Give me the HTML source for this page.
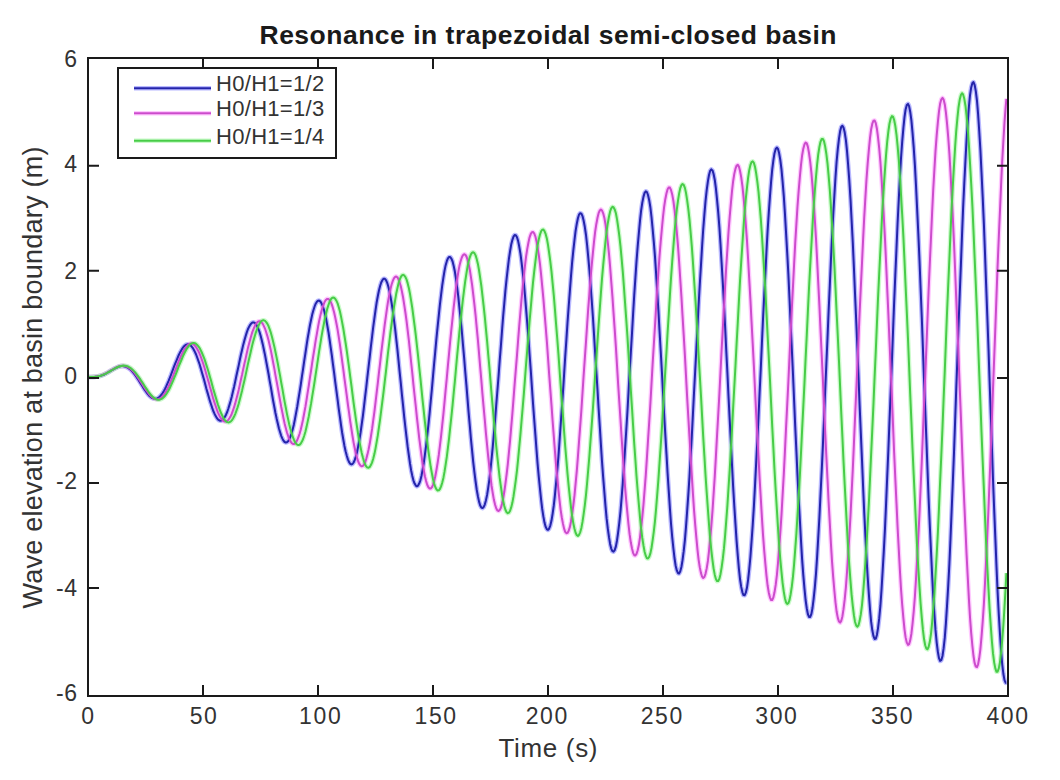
<!DOCTYPE html><html><head><meta charset="utf-8"><style>html,body{margin:0;padding:0;background:#fff;width:1060px;height:780px;overflow:hidden}svg{display:block}text{font-family:"Liberation Sans",sans-serif;fill:#333}</style></head><body>
<svg width="1060" height="780" viewBox="0 0 1060 780">
<rect width="1060" height="780" fill="#fff"/>
<defs><clipPath id="c"><rect x="88" y="58" width="920" height="638"/></clipPath></defs>
<g clip-path="url(#c)" fill="none" stroke-linejoin="round">
<path d="M88.0 377.0L89.2 377.0 90.3 377.0 91.5 377.0 92.6 377.0 93.8 376.9 94.9 376.9 96.0 376.7 97.2 376.6 98.3 376.4 99.5 376.1 100.7 375.8 101.8 375.4 103.0 375.0 104.1 374.5 105.2 373.9 106.4 373.3 107.5 372.7 108.7 372.0 109.8 371.3 111.0 370.6 112.2 369.9 113.3 369.3 114.5 368.6 115.6 368.0 116.8 367.5 117.9 367.0 119.0 366.6 120.2 366.3 121.3 366.1 122.5 366.1 123.7 366.2 124.8 366.4 126.0 366.8 127.1 367.3 128.2 368.0 129.4 368.8 130.6 369.8 131.7 370.9 132.8 372.2 134.0 373.6 135.2 375.1 136.3 376.7 137.4 378.5 138.6 380.2 139.8 382.1 140.9 383.9 142.1 385.7 143.2 387.6 144.3 389.3 145.5 391.0 146.7 392.6 147.8 394.1 148.9 395.4 150.1 396.5 151.2 397.4 152.4 398.1 153.6 398.6 154.7 398.8 155.8 398.8 157.0 398.5 158.2 397.9 159.3 397.0 160.4 395.9 161.6 394.5 162.8 392.8 163.9 390.9 165.1 388.7 166.2 386.4 167.3 383.8 168.5 381.1 169.7 378.2 170.8 375.3 171.9 372.3 173.1 369.2 174.2 366.2 175.4 363.2 176.6 360.3 177.7 357.6 178.8 355.0 180.0 352.6 181.2 350.5 182.3 348.6 183.4 347.0 184.6 345.8 185.8 344.9 186.9 344.4 188.1 344.2 189.2 344.5 190.3 345.2 191.5 346.3 192.7 347.8 193.8 349.7 194.9 351.9 196.1 354.5 197.2 357.5 198.4 360.8 199.6 364.3 200.7 368.1 201.8 372.0 203.0 376.1 204.2 380.3 205.3 384.5 206.4 388.8 207.6 392.9 208.8 397.0 209.9 400.9 211.1 404.5 212.2 407.9 213.3 411.0 214.5 413.7 215.7 416.1 216.8 417.9 217.9 419.4 219.1 420.3 220.2 420.7 221.4 420.6 222.6 419.9 223.7 418.7 224.8 417.0 226.0 414.7 227.2 412.0 228.3 408.7 229.4 405.1 230.6 401.0 231.8 396.5 232.9 391.8 234.1 386.8 235.2 381.6 236.3 376.2 237.5 370.8 238.7 365.4 239.8 360.0 240.9 354.7 242.1 349.7 243.2 344.9 244.4 340.4 245.6 336.3 246.7 332.6 247.8 329.5 249.0 326.9 250.2 324.8 251.3 323.4 252.4 322.5 253.6 322.4 254.8 322.9 255.9 324.1 257.1 326.0 258.2 328.5 259.4 331.6 260.5 335.3 261.6 339.6 262.8 344.4 263.9 349.7 265.1 355.4 266.2 361.4 267.4 367.7 268.6 374.2 269.7 380.8 270.9 387.4 272.0 394.0 273.1 400.5 274.3 406.8 275.4 412.7 276.6 418.4 277.8 423.5 278.9 428.2 280.1 432.3 281.2 435.8 282.4 438.6 283.5 440.7 284.6 442.0 285.8 442.5 286.9 442.3 288.1 441.2 289.2 439.4 290.4 436.7 291.6 433.3 292.7 429.2 293.9 424.4 295.0 418.9 296.1 412.9 297.3 406.4 298.4 399.4 299.6 392.1 300.8 384.5 301.9 376.7 303.1 368.9 304.2 361.1 305.4 353.3 306.5 345.8 307.6 338.6 308.8 331.8 309.9 325.5 311.1 319.7 312.2 314.6 313.4 310.2 314.6 306.5 315.7 303.7 316.9 301.8 318.0 300.7 319.1 300.6 320.3 301.4 321.4 303.1 322.6 305.8 323.8 309.3 324.9 313.8 326.1 319.0 327.2 325.0 328.4 331.7 329.5 339.0 330.6 346.9 331.8 355.2 332.9 363.8 334.1 372.7 335.2 381.7 336.4 390.7 337.6 399.7 338.7 408.5 339.9 416.9 341.0 425.0 342.1 432.5 343.3 439.5 344.4 445.7 345.6 451.2 346.8 455.7 347.9 459.4 349.1 462.1 350.2 463.8 351.4 464.4 352.5 464.0 353.6 462.5 354.8 459.9 355.9 456.3 357.1 451.7 358.2 446.2 359.4 439.7 360.6 432.4 361.7 424.4 362.9 415.8 364.0 406.6 365.1 396.9 366.3 387.0 367.4 376.8 368.6 366.5 369.8 356.3 370.9 346.3 372.1 336.5 373.2 327.2 374.4 318.4 375.5 310.3 376.6 302.8 377.8 296.3 378.9 290.7 380.1 286.0 381.2 282.5 382.4 280.1 383.6 278.8 384.7 278.8 385.9 279.9 387.0 282.3 388.1 285.8 389.3 290.4 390.4 296.2 391.6 303.0 392.8 310.7 393.9 319.3 395.1 328.7 396.2 338.7 397.4 349.3 398.5 360.3 399.6 371.6 400.8 383.1 401.9 394.5 403.1 405.8 404.2 416.9 405.4 427.5 406.6 437.6 407.7 447.1 408.9 455.7 410.0 463.5 411.1 470.2 412.3 475.9 413.4 480.3 414.6 483.6 415.8 485.6 416.9 486.3 418.1 485.6 419.2 483.6 420.4 480.3 421.5 475.7 422.6 469.9 423.8 462.9 424.9 454.7 426.1 445.6 427.2 435.6 428.4 424.8 429.6 413.4 430.7 401.4 431.9 389.0 433.0 376.4 434.1 363.8 435.3 351.2 436.4 338.8 437.6 326.9 438.8 315.4 439.9 304.7 441.1 294.7 442.2 285.7 443.4 277.7 444.5 270.9 445.6 265.4 446.8 261.2 447.9 258.4 449.1 257.0 450.2 257.0 451.4 258.6 452.6 261.5 453.7 266.0 454.9 271.8 456.0 278.9 457.1 287.2 458.3 296.7 459.4 307.3 460.6 318.8 461.8 331.0 462.9 343.9 464.1 357.3 465.2 371.0 466.4 384.8 467.5 398.7 468.6 412.3 469.8 425.7 470.9 438.5 472.1 450.6 473.2 461.9 474.4 472.2 475.6 481.5 476.7 489.5 477.9 496.2 479.0 501.4 480.1 505.2 481.3 507.4 482.4 508.1 483.6 507.2 484.8 504.6 485.9 500.5 487.1 494.9 488.2 487.8 489.4 479.3 490.5 469.5 491.6 458.5 492.8 446.4 493.9 433.5 495.1 419.7 496.2 405.4 497.4 390.7 498.6 375.7 499.7 360.6 500.9 345.6 502.0 331.0 503.1 316.8 504.3 303.3 505.4 290.6 506.6 278.9 507.8 268.3 508.9 259.0 510.1 251.0 511.2 244.6 512.4 239.8 513.5 236.6 514.6 235.1 515.8 235.3 517.0 237.3 518.1 240.9 519.2 246.3 520.4 253.3 521.5 261.8 522.7 271.8 523.9 283.1 525.0 295.6 526.1 309.2 527.3 323.7 528.5 338.9 529.6 354.7 530.8 370.8 531.9 387.0 533.0 403.3 534.2 419.3 535.4 434.8 536.5 449.8 537.6 463.9 538.8 477.0 540.0 489.0 541.1 499.7 542.2 508.9 543.4 516.6 544.5 522.6 545.7 526.9 546.9 529.3 548.0 529.9 549.1 528.7 550.3 525.6 551.5 520.6 552.6 513.9 553.8 505.4 554.9 495.4 556.0 483.9 557.2 471.0 558.4 456.9 559.5 441.7 560.6 425.7 561.8 409.0 563.0 391.9 564.1 374.4 565.2 356.9 566.4 339.6 567.5 322.7 568.7 306.3 569.9 290.7 571.0 276.1 572.1 262.7 573.3 250.6 574.5 240.0 575.6 230.9 576.8 223.7 577.9 218.3 579.0 214.7 580.2 213.2 581.4 213.6 582.5 216.1 583.6 220.5 584.8 226.8 586.0 235.0 587.1 245.0 588.2 256.6 589.4 269.8 590.5 284.3 591.7 300.0 592.9 316.8 594.0 334.3 595.1 352.5 596.3 371.0 597.5 389.7 598.6 408.3 599.8 426.6 600.9 444.4 602.0 461.5 603.2 477.6 604.4 492.5 605.5 506.1 606.6 518.2 607.8 528.6 609.0 537.2 610.1 543.9 611.2 548.6 612.4 551.2 613.5 551.7 614.7 550.1 615.9 546.4 617.0 540.5 618.1 532.7 619.3 522.9 620.5 511.3 621.6 498.0 622.8 483.1 623.9 466.9 625.0 449.6 626.2 431.3 627.4 412.2 628.5 392.6 629.6 372.8 630.8 352.9 632.0 333.2 633.1 314.0 634.2 295.5 635.4 277.9 636.5 261.4 637.7 246.2 638.9 232.6 640.0 220.7 641.1 210.7 642.3 202.6 643.5 196.6 644.6 192.9 645.8 191.3 646.9 192.0 648.0 195.0 649.2 200.2 650.4 207.5 651.5 217.0 652.6 228.5 653.8 241.8 655.0 256.8 656.1 273.4 657.2 291.3 658.4 310.3 659.5 330.2 660.7 350.7 661.9 371.7 663.0 392.8 664.1 413.8 665.3 434.4 666.5 454.4 667.6 473.5 668.8 491.6 669.9 508.3 671.0 523.5 672.2 537.0 673.4 548.5 674.5 558.0 675.6 565.4 676.8 570.4 678.0 573.2 679.1 573.5 680.2 571.5 681.4 567.0 682.5 560.3 683.7 551.2 684.9 540.1 686.0 526.8 687.1 511.7 688.3 494.9 689.5 476.6 690.6 457.0 691.8 436.4 692.9 414.9 694.0 393.0 695.2 370.7 696.4 348.4 697.5 326.4 698.6 304.9 699.8 284.2 701.0 264.6 702.1 246.3 703.2 229.5 704.4 214.4 705.5 201.3 706.7 190.2 707.9 181.4 709.0 175.0 710.1 170.9 711.3 169.4 712.5 170.4 713.6 174.0 714.8 180.0 715.9 188.4 717.0 199.2 718.2 212.2 719.4 227.3 720.5 244.2 721.6 262.8 722.8 282.9 724.0 304.2 725.1 326.4 726.2 349.4 727.4 372.8 728.5 396.3 729.7 419.6 730.9 442.6 732.0 464.8 733.1 486.0 734.3 506.0 735.5 524.4 736.6 541.1 737.8 555.9 738.9 568.6 740.0 579.0 741.2 586.9 742.4 592.3 743.5 595.1 744.6 595.3 745.8 592.7 747.0 587.6 748.1 579.8 749.2 569.6 750.4 557.0 751.5 542.1 752.7 525.2 753.9 506.4 755.0 485.9 756.1 464.1 757.3 441.1 758.5 417.3 759.6 392.9 760.8 368.2 761.9 343.5 763.0 319.2 764.2 295.4 765.4 272.6 766.5 251.0 767.6 230.9 768.8 212.4 770.0 195.9 771.1 181.6 772.2 169.6 773.4 160.1 774.5 153.2 775.7 149.0 776.9 147.6 778.0 148.9 779.1 153.1 780.3 160.0 781.5 169.5 782.6 181.7 783.8 196.2 784.9 213.0 786.0 231.9 787.2 252.6 788.4 274.9 789.5 298.5 790.6 323.1 791.8 348.5 793.0 374.3 794.1 400.2 795.2 425.9 796.4 451.1 797.5 475.5 798.7 498.8 799.9 520.6 801.0 540.8 802.1 559.1 803.3 575.1 804.5 588.9 805.6 600.0 806.8 608.5 807.9 614.2 809.0 617.0 810.2 616.9 811.4 613.9 812.5 608.0 813.6 599.2 814.8 587.7 816.0 573.6 817.1 557.1 818.2 538.3 819.4 517.5 820.5 494.9 821.7 470.8 822.9 445.4 824.0 419.2 825.1 392.3 826.3 365.2 827.5 338.2 828.6 311.5 829.8 285.6 830.9 260.6 832.0 237.1 833.2 215.1 834.4 195.1 835.5 177.2 836.6 161.7 837.8 148.8 839.0 138.6 840.1 131.3 841.2 127.0 842.4 125.7 843.5 127.5 844.7 132.3 845.9 140.1 847.0 150.9 848.1 164.4 849.3 180.5 850.5 199.1 851.6 220.0 852.8 242.8 853.9 267.3 855.0 293.2 856.2 320.2 857.4 348.0 858.5 376.2 859.6 404.6 860.8 432.6 862.0 460.1 863.1 486.7 864.2 512.0 865.4 535.7 866.5 557.5 867.7 577.3 868.9 594.6 870.0 609.3 871.1 621.3 872.3 630.3 873.5 636.2 874.6 639.0 875.8 638.6 876.9 635.0 878.0 628.3 879.2 618.4 880.4 605.7 881.5 590.0 882.6 571.8 883.8 551.1 885.0 528.2 886.1 503.4 887.2 477.0 888.4 449.3 889.5 420.6 890.7 391.4 891.9 361.8 893.0 332.4 894.1 303.4 895.3 275.3 896.5 248.3 897.6 222.8 898.8 199.1 899.9 177.5 901.0 158.3 902.2 141.6 903.4 127.9 904.5 117.1 905.6 109.4 906.8 105.0 908.0 103.9 909.1 106.1 910.2 111.7 911.4 120.4 912.5 132.4 913.7 147.3 914.9 165.1 916.0 185.5 917.1 208.4 918.3 233.3 919.5 260.1 920.6 288.3 921.8 317.7 922.9 348.0 924.0 378.6 925.2 409.4 926.4 439.8 927.5 469.5 928.6 498.2 929.8 525.5 931.0 551.0 932.1 574.5 933.2 595.7 934.4 614.2 935.5 629.9 936.7 642.6 937.9 652.1 939.0 658.2 940.1 660.9 941.3 660.2 942.5 656.0 943.6 648.4 944.8 637.5 945.9 623.3 947.0 606.1 948.2 586.1 949.4 563.5 950.5 538.5 951.6 511.6 952.8 482.8 954.0 452.8 955.1 421.7 956.2 390.0 957.4 358.0 958.5 326.2 959.7 295.0 960.9 264.6 962.0 235.6 963.1 208.1 964.3 182.7 965.5 159.6 966.6 139.1 967.8 121.4 968.9 106.8 970.0 95.4 971.2 87.4 972.4 83.0 973.5 82.1 974.6 84.8 975.8 91.1 977.0 100.9 978.1 114.1 979.2 130.5 980.4 150.0 981.5 172.3 982.7 197.1 983.9 224.2 985.0 253.3 986.1 283.9 987.3 315.7 988.5 348.4 989.6 381.4 990.8 414.6 991.9 447.3 993.0 479.3 994.2 510.1 995.4 539.4 996.5 566.7 997.6 591.8 998.8 614.4 1000.0 634.1 1001.1 650.8 1002.2 664.1 1003.4 674.0 1004.5 680.2 1005.7 682.8 1006.4 682.6" stroke="#8080ff" stroke-width="4.6" opacity="0.55"/>
<path d="M88.0 377.0L89.2 377.0 90.3 377.0 91.5 377.0 92.6 376.9 93.8 376.9 94.9 376.8 96.0 376.6 97.2 376.5 98.3 376.2 99.5 375.9 100.7 375.6 101.8 375.2 103.0 374.7 104.1 374.2 105.2 373.7 106.4 373.1 107.5 372.5 108.7 371.8 109.8 371.1 111.0 370.4 112.2 369.8 113.3 369.1 114.5 368.5 115.6 367.9 116.8 367.3 117.9 366.8 119.0 366.4 120.2 366.1 121.3 365.9 122.5 365.8 123.7 365.9 124.8 366.0 126.0 366.3 127.1 366.8 128.2 367.4 129.4 368.1 130.6 369.0 131.7 370.0 132.8 371.1 134.0 372.4 135.2 373.8 136.3 375.3 137.4 376.9 138.6 378.6 139.8 380.4 140.9 382.1 142.1 384.0 143.2 385.8 144.3 387.5 145.5 389.3 146.7 391.0 147.8 392.5 148.9 394.0 150.1 395.3 151.2 396.5 152.4 397.5 153.6 398.3 154.7 398.9 155.8 399.2 157.0 399.3 158.2 399.2 159.3 398.8 160.4 398.1 161.6 397.2 162.8 396.0 163.9 394.6 165.1 392.9 166.2 391.0 167.3 388.9 168.5 386.6 169.7 384.1 170.8 381.4 171.9 378.7 173.1 375.8 174.2 372.9 175.4 369.9 176.6 366.9 177.7 364.0 178.8 361.1 180.0 358.4 181.2 355.7 182.3 353.3 183.4 351.1 184.6 349.1 185.8 347.3 186.9 345.9 188.1 344.8 189.2 344.0 190.3 343.6 191.5 343.5 192.7 343.8 193.8 344.6 194.9 345.6 196.1 347.1 197.2 348.9 198.4 351.1 199.6 353.7 200.7 356.5 201.8 359.6 203.0 363.0 204.2 366.7 205.3 370.5 206.4 374.4 207.6 378.5 208.8 382.6 209.9 386.8 211.1 390.9 212.2 394.9 213.3 398.9 214.5 402.6 215.7 406.1 216.8 409.4 217.9 412.3 219.1 414.9 220.2 417.1 221.4 418.9 222.6 420.3 223.7 421.2 224.8 421.6 226.0 421.6 227.2 421.0 228.3 419.9 229.4 418.3 230.6 416.2 231.8 413.7 232.9 410.6 234.1 407.2 235.2 403.4 236.3 399.2 237.5 394.7 238.7 389.9 239.8 384.9 240.9 379.7 242.1 374.5 243.2 369.2 244.4 363.8 245.6 358.6 246.7 353.5 247.8 348.6 249.0 343.9 250.2 339.5 251.3 335.5 252.4 331.9 253.6 328.8 254.8 326.1 255.9 324.0 257.1 322.5 258.2 321.5 259.4 321.2 260.5 321.5 261.6 322.4 262.8 323.9 263.9 326.1 265.1 328.8 266.2 332.2 267.4 336.1 268.6 340.5 269.7 345.3 270.9 350.6 272.0 356.3 273.1 362.2 274.3 368.4 275.4 374.8 276.6 381.3 277.8 387.8 278.9 394.2 280.1 400.6 281.2 406.7 282.4 412.6 283.5 418.2 284.6 423.4 285.8 428.1 286.9 432.3 288.1 435.9 289.2 438.9 290.4 441.2 291.6 442.9 292.7 443.8 293.9 444.0 295.0 443.4 296.1 442.1 297.3 440.0 298.4 437.2 299.6 433.7 300.8 429.5 301.9 424.7 303.1 419.2 304.2 413.3 305.4 406.9 306.5 400.1 307.6 392.9 308.8 385.5 309.9 377.9 311.1 370.3 312.2 362.6 313.4 355.0 314.6 347.6 315.7 340.4 316.9 333.6 318.0 327.2 319.1 321.2 320.3 315.9 321.4 311.2 322.6 307.2 323.8 303.9 324.9 301.4 326.1 299.7 327.2 298.9 328.4 299.0 329.5 299.9 330.6 301.7 331.8 304.4 332.9 307.9 334.1 312.3 335.2 317.3 336.4 323.2 337.6 329.6 338.7 336.7 339.9 344.3 341.0 352.3 342.1 360.7 343.3 369.3 344.4 378.1 345.6 386.9 346.8 395.8 347.9 404.5 349.1 412.9 350.2 421.1 351.4 428.8 352.5 436.0 353.6 442.6 354.8 448.5 355.9 453.7 357.1 458.0 358.2 461.5 359.4 464.1 360.6 465.7 361.7 466.3 362.9 465.9 364.0 464.6 365.1 462.2 366.3 458.8 367.4 454.6 368.6 449.4 369.8 443.3 370.9 436.5 372.1 428.9 373.2 420.7 374.4 411.9 375.5 402.7 376.6 393.1 377.8 383.2 378.9 373.2 380.1 363.2 381.2 353.2 382.4 343.4 383.6 333.9 384.7 324.9 385.9 316.3 387.0 308.4 388.1 301.2 389.3 294.7 390.4 289.2 391.6 284.5 392.8 280.9 393.9 278.4 395.1 276.9 396.2 276.5 397.4 277.3 398.5 279.2 399.6 282.2 400.8 286.3 401.9 291.4 403.1 297.5 404.2 304.6 405.4 312.5 406.6 321.3 407.7 330.7 408.9 340.7 410.0 351.1 411.1 362.0 412.3 373.0 413.4 384.3 414.6 395.5 415.8 406.5 416.9 417.4 418.1 427.8 419.2 437.8 420.4 447.1 421.5 455.7 422.6 463.5 423.8 470.4 424.9 476.3 426.1 481.1 427.2 484.7 428.4 487.2 429.6 488.5 430.7 488.5 431.9 487.3 433.0 484.8 434.1 481.1 435.3 476.2 436.4 470.2 437.6 463.0 438.8 454.9 439.9 445.8 441.1 435.9 442.2 425.3 443.4 414.1 444.5 402.4 445.6 390.3 446.8 378.0 447.9 365.6 449.1 353.2 450.2 341.1 451.4 329.2 452.6 317.8 453.7 307.1 454.9 297.0 456.0 287.7 457.1 279.5 458.3 272.2 459.4 266.1 460.6 261.2 461.8 257.5 462.9 255.2 464.1 254.2 465.2 254.6 466.4 256.4 467.5 259.5 468.6 264.0 469.8 269.7 470.9 276.8 472.1 284.9 473.2 294.2 474.4 304.4 475.6 315.5 476.7 327.4 477.9 339.9 479.0 352.9 480.1 366.2 481.3 379.7 482.4 393.3 483.6 406.8 484.8 420.0 485.9 432.8 487.1 445.1 488.2 456.7 489.4 467.4 490.5 477.2 491.6 485.9 492.8 493.5 493.9 499.8 495.1 504.7 496.2 508.3 497.4 510.4 498.6 511.0 499.7 510.1 500.9 507.7 502.0 503.8 503.1 498.5 504.3 491.8 505.4 483.8 506.6 474.5 507.8 464.1 508.9 452.7 510.1 440.3 511.2 427.2 512.4 413.4 513.5 399.2 514.6 384.6 515.8 369.9 517.0 355.1 518.1 340.5 519.2 326.3 520.4 312.5 521.5 299.4 522.7 287.1 523.9 275.8 525.0 265.5 526.1 256.4 527.3 248.6 528.5 242.2 529.6 237.3 530.8 233.9 531.9 232.2 533.0 232.0 534.2 233.4 535.4 236.5 536.5 241.2 537.6 247.4 538.8 255.1 540.0 264.2 541.1 274.6 542.2 286.2 543.4 298.9 544.5 312.5 545.7 327.0 546.9 342.0 548.0 357.5 549.1 373.4 550.3 389.3 551.5 405.2 552.6 420.8 553.8 436.1 554.9 450.7 556.0 464.6 557.2 477.6 558.4 489.5 559.5 500.2 560.6 509.6 561.8 517.5 563.0 523.9 564.1 528.7 565.2 531.8 566.4 533.2 567.5 532.9 568.7 530.8 569.9 526.9 571.0 521.4 572.1 514.2 573.3 505.5 574.5 495.3 575.6 483.6 576.8 470.8 577.9 456.8 579.0 441.9 580.2 426.2 581.4 409.8 582.5 393.0 583.6 376.0 584.8 358.8 586.0 341.8 587.1 325.2 588.2 309.0 589.4 293.5 590.5 278.9 591.7 265.3 592.9 252.9 594.0 241.8 595.1 232.2 596.3 224.2 597.5 217.8 598.6 213.2 599.8 210.5 600.9 209.5 602.0 210.5 603.2 213.3 604.4 218.0 605.5 224.4 606.6 232.6 607.8 242.5 609.0 253.9 610.1 266.7 611.2 280.9 612.4 296.2 613.5 312.4 614.7 329.4 615.9 347.1 617.0 365.2 618.1 383.4 619.3 401.7 620.5 419.8 621.6 437.5 622.8 454.6 623.9 470.9 625.0 486.2 626.2 500.3 627.4 513.1 628.5 524.5 629.6 534.2 630.8 542.3 632.0 548.5 633.1 552.8 634.2 555.2 635.4 555.5 636.5 553.9 637.7 550.3 638.9 544.8 640.0 537.3 641.1 528.0 642.3 517.0 643.5 504.3 644.6 490.2 645.8 474.8 646.9 458.1 648.0 440.6 649.2 422.2 650.4 403.2 651.5 383.9 652.6 364.4 653.8 345.0 655.0 325.9 656.1 307.2 657.2 289.3 658.4 272.3 659.5 256.4 660.7 241.7 661.9 228.5 663.0 217.0 664.1 207.1 665.3 199.2 666.5 193.2 667.6 189.2 668.8 187.4 669.9 187.6 671.0 190.0 672.2 194.4 673.4 201.0 674.5 209.5 675.6 219.9 676.8 232.2 678.0 246.1 679.1 261.5 680.2 278.3 681.4 296.3 682.5 315.2 683.7 334.9 684.9 355.2 686.0 375.7 687.1 396.4 688.3 416.9 689.5 437.1 690.6 456.6 691.8 475.4 692.9 493.1 694.0 509.6 695.2 524.6 696.4 538.1 697.5 549.8 698.6 559.6 699.8 567.4 701.0 573.1 702.1 576.7 703.2 578.0 704.4 577.0 705.5 573.8 706.7 568.4 707.9 560.9 709.0 551.2 710.1 539.6 711.3 526.1 712.5 510.8 713.6 494.0 714.8 475.9 715.9 456.6 717.0 436.3 718.2 415.2 719.4 393.7 720.5 371.9 721.6 350.1 722.8 328.5 724.0 307.3 725.1 286.9 726.2 267.4 727.4 249.1 728.5 232.1 729.7 216.7 730.9 203.0 732.0 191.2 733.1 181.5 734.3 173.9 735.5 168.6 736.6 165.6 737.8 164.9 738.9 166.6 740.0 170.7 741.2 177.1 742.4 185.8 743.5 196.6 744.6 209.5 745.8 224.3 747.0 240.9 748.1 259.1 749.2 278.6 750.4 299.4 751.5 321.0 752.7 343.4 753.9 366.2 755.0 389.2 756.1 412.2 757.3 434.8 758.5 456.9 759.6 478.1 760.8 498.3 761.9 517.2 763.0 534.6 764.2 550.3 765.4 564.1 766.5 575.9 767.6 585.5 768.8 592.7 770.0 597.6 771.1 600.0 772.2 600.0 773.4 597.4 774.5 592.3 775.7 584.9 776.9 575.0 778.0 563.0 779.1 548.8 780.3 532.6 781.5 514.6 782.6 495.0 783.8 474.1 784.9 452.0 786.0 428.9 787.2 405.3 788.4 381.2 789.5 357.0 790.6 332.9 791.8 309.3 793.0 286.3 794.1 264.3 795.2 243.4 796.4 224.0 797.5 206.3 798.7 190.4 799.9 176.5 801.0 164.9 802.1 155.5 803.3 148.7 804.5 144.3 805.6 142.6 806.8 143.4 807.9 146.9 809.0 153.0 810.2 161.6 811.4 172.7 812.5 186.0 813.6 201.6 814.8 219.2 816.0 238.5 817.1 259.6 818.2 281.9 819.4 305.5 820.5 329.8 821.7 354.8 822.9 380.2 824.0 405.5 825.1 430.7 826.3 455.3 827.5 479.1 828.6 501.8 829.8 523.2 830.9 543.1 832.0 561.1 833.2 577.1 834.4 591.0 835.5 602.5 836.6 611.5 837.8 617.9 839.0 621.6 840.1 622.6 841.2 620.9 842.4 616.4 843.5 609.2 844.7 599.4 845.9 587.1 847.0 572.3 848.1 555.4 849.3 536.4 850.5 515.6 851.6 493.1 852.8 469.3 853.9 444.4 855.0 418.6 856.2 392.3 857.4 365.8 858.5 339.2 859.6 313.1 860.8 287.6 862.0 263.0 863.1 239.6 864.2 217.7 865.4 197.4 866.5 179.2 867.7 163.1 868.9 149.4 870.0 138.1 871.1 129.5 872.3 123.7 873.5 120.7 874.6 120.5 875.8 123.2 876.9 128.7 878.0 137.1 879.2 148.2 880.4 161.8 881.5 177.9 882.6 196.3 883.8 216.8 885.0 239.1 886.1 263.0 887.2 288.3 888.4 314.6 889.5 341.7 890.7 369.3 891.9 397.0 893.0 424.6 894.1 451.8 895.3 478.2 896.5 503.5 897.6 527.5 898.8 549.9 899.9 570.4 901.0 588.8 902.2 604.8 903.4 618.4 904.5 629.3 905.6 637.4 906.8 642.6 908.0 644.9 909.1 644.1 910.2 640.4 911.4 633.7 912.5 624.1 913.7 611.7 914.9 596.7 916.0 579.1 917.1 559.3 918.3 537.3 919.5 513.5 920.6 488.1 921.8 461.4 922.9 433.7 924.0 405.2 925.2 376.4 926.4 347.5 927.5 318.8 928.6 290.7 929.8 263.5 931.0 237.5 932.1 213.0 933.2 190.2 934.4 169.5 935.5 151.1 936.7 135.1 937.9 121.8 939.0 111.3 940.1 103.8 941.3 99.3 942.5 97.9 943.6 99.6 944.8 104.4 945.9 112.3 947.0 123.2 948.2 137.0 949.4 153.4 950.5 172.5 951.6 193.8 952.8 217.3 954.0 242.6 955.1 269.5 956.2 297.7 957.4 326.8 958.5 356.6 959.7 386.7 960.9 416.7 962.0 446.4 963.1 475.4 964.3 503.4 965.5 530.0 966.6 555.0 967.8 578.0 968.9 598.9 970.0 617.3 971.2 633.1 972.4 646.0 973.5 656.0 974.6 662.9 975.8 666.6 977.0 667.1 978.1 664.3 979.2 658.3 980.4 649.1 981.5 636.9 982.7 621.7 983.9 603.8 985.0 583.2 986.1 560.3 987.3 535.3 988.5 508.4 989.6 480.1 990.8 450.4 991.9 419.9 993.0 388.8 994.2 357.6 995.4 326.4 996.5 295.7 997.6 265.9 998.8 237.2 1000.0 210.1 1001.1 184.7 1002.2 161.4 1003.4 140.5 1004.5 122.2 1005.7 106.7 1006.4 98.8" stroke="#ff9cff" stroke-width="4.6" opacity="0.55"/>
<path d="M88.0 377.0L89.2 377.0 90.3 377.0 91.5 377.0 92.6 376.9 93.8 376.9 94.9 376.8 96.0 376.7 97.2 376.5 98.3 376.3 99.5 376.0 100.7 375.7 101.8 375.3 103.0 374.9 104.1 374.4 105.2 373.9 106.4 373.3 107.5 372.7 108.7 372.0 109.8 371.4 111.0 370.7 112.2 370.0 113.3 369.3 114.5 368.7 115.6 368.1 116.8 367.5 117.9 367.0 119.0 366.5 120.2 366.2 121.3 365.9 122.5 365.7 123.7 365.6 124.8 365.7 126.0 365.9 127.1 366.2 128.2 366.7 129.4 367.3 130.6 368.0 131.7 368.9 132.8 369.9 134.0 371.1 135.2 372.4 136.3 373.8 137.4 375.3 138.6 376.9 139.8 378.5 140.9 380.3 142.1 382.0 143.2 383.8 144.3 385.6 145.5 387.4 146.7 389.1 147.8 390.8 148.9 392.4 150.1 393.9 151.2 395.3 152.4 396.5 153.6 397.5 154.7 398.4 155.8 399.0 157.0 399.5 158.2 399.7 159.3 399.7 160.4 399.4 161.6 398.9 162.8 398.1 163.9 397.0 165.1 395.8 166.2 394.2 167.3 392.5 168.5 390.5 169.7 388.3 170.8 385.9 171.9 383.4 173.1 380.7 174.2 377.9 175.4 375.1 176.6 372.1 177.7 369.2 178.8 366.2 180.0 363.3 181.2 360.5 182.3 357.8 183.4 355.2 184.6 352.8 185.8 350.6 186.9 348.6 188.1 346.9 189.2 345.4 190.3 344.3 191.5 343.5 192.7 343.1 193.8 343.0 194.9 343.2 196.1 343.9 197.2 344.9 198.4 346.3 199.6 348.0 200.7 350.1 201.8 352.5 203.0 355.3 204.2 358.3 205.3 361.6 206.4 365.1 207.6 368.8 208.8 372.7 209.9 376.7 211.1 380.8 212.2 384.9 213.3 389.0 214.5 393.1 215.7 397.1 216.8 400.9 217.9 404.5 219.1 407.9 220.2 411.0 221.4 413.8 222.6 416.3 223.7 418.4 224.8 420.1 226.0 421.3 227.2 422.1 228.3 422.4 229.4 422.2 230.6 421.6 231.8 420.4 232.9 418.8 234.1 416.6 235.2 414.1 236.3 411.1 237.5 407.6 238.7 403.8 239.8 399.6 240.9 395.2 242.1 390.4 243.2 385.5 244.4 380.4 245.6 375.1 246.7 369.9 247.8 364.6 249.0 359.3 250.2 354.2 251.3 349.3 252.4 344.6 253.6 340.1 254.8 336.0 255.9 332.3 257.1 329.0 258.2 326.2 259.4 323.9 260.5 322.1 261.6 320.9 262.8 320.3 263.9 320.3 265.1 320.9 266.2 322.1 267.4 323.9 268.6 326.3 269.7 329.3 270.9 332.9 272.0 336.9 273.1 341.4 274.3 346.4 275.4 351.8 276.6 357.5 277.8 363.5 278.9 369.7 280.1 376.0 281.2 382.5 282.4 388.9 283.5 395.4 284.6 401.6 285.8 407.7 286.9 413.6 288.1 419.1 289.2 424.2 290.4 428.9 291.6 433.1 292.7 436.7 293.9 439.7 295.0 442.1 296.1 443.8 297.3 444.8 298.4 445.1 299.6 444.7 300.8 443.5 301.9 441.6 303.1 439.0 304.2 435.7 305.4 431.7 306.5 427.1 307.6 421.9 308.8 416.2 309.9 410.0 311.1 403.4 312.2 396.4 313.4 389.1 314.6 381.7 315.7 374.1 316.9 366.4 318.0 358.8 319.1 351.3 320.3 344.1 321.4 337.1 322.6 330.4 323.8 324.2 324.9 318.5 326.1 313.4 327.2 308.9 328.4 305.1 329.5 302.0 330.6 299.7 331.8 298.2 332.9 297.6 334.1 297.8 335.2 298.8 336.4 300.7 337.6 303.4 338.7 307.0 339.9 311.3 341.0 316.4 342.1 322.1 343.3 328.5 344.4 335.5 345.6 343.0 346.8 351.0 347.9 359.2 349.1 367.8 350.2 376.5 351.4 385.3 352.5 394.1 353.6 402.8 354.8 411.3 355.9 419.4 357.1 427.3 358.2 434.6 359.4 441.4 360.6 447.5 361.7 452.9 362.9 457.6 364.0 461.5 365.1 464.4 366.3 466.5 367.4 467.6 368.6 467.8 369.8 466.9 370.9 465.1 372.1 462.4 373.2 458.7 374.4 454.1 375.5 448.6 376.6 442.4 377.8 435.3 378.9 427.6 380.1 419.3 381.2 410.5 382.4 401.2 383.6 391.6 384.7 381.8 385.9 371.8 387.0 361.9 388.1 352.0 389.3 342.3 390.4 332.9 391.6 323.9 392.8 315.4 393.9 307.5 395.1 300.3 396.2 293.8 397.4 288.2 398.5 283.5 399.6 279.8 400.8 277.1 401.9 275.4 403.1 274.8 404.2 275.4 405.4 277.0 406.6 279.6 407.7 283.4 408.9 288.2 410.0 293.9 411.1 300.6 412.3 308.2 413.4 316.6 414.6 325.6 415.8 335.3 416.9 345.5 418.1 356.1 419.2 367.0 420.4 378.1 421.5 389.3 422.6 400.4 423.8 411.3 424.9 421.9 426.1 432.2 427.2 441.9 428.4 450.9 429.6 459.3 430.7 466.8 431.9 473.4 433.0 479.0 434.1 483.6 435.3 487.0 436.4 489.3 437.6 490.4 438.8 490.3 439.9 489.0 441.1 486.4 442.2 482.7 443.4 477.9 444.5 471.9 445.6 464.8 446.8 456.8 447.9 447.8 449.1 438.1 450.2 427.6 451.4 416.5 452.6 404.9 453.7 393.0 454.9 380.8 456.0 368.5 457.1 356.2 458.3 344.0 459.4 332.1 460.6 320.7 461.8 309.7 462.9 299.5 464.1 289.9 465.2 281.3 466.4 273.6 467.5 267.0 468.6 261.5 469.8 257.3 470.9 254.3 472.1 252.6 473.2 252.2 474.4 253.1 475.6 255.4 476.7 259.0 477.9 263.9 479.0 270.0 480.1 277.3 481.3 285.7 482.4 295.2 483.6 305.6 484.8 316.8 485.9 328.7 487.1 341.2 488.2 354.1 489.4 367.4 490.5 380.9 491.6 394.4 492.8 407.8 493.9 420.9 495.1 433.6 496.2 445.8 497.4 457.4 498.6 468.1 499.7 477.9 500.9 486.7 502.0 494.4 503.1 500.8 504.3 506.0 505.4 509.8 506.6 512.2 507.8 513.2 508.9 512.7 510.1 510.8 511.2 507.4 512.4 502.6 513.5 496.4 514.6 488.9 515.8 480.2 517.0 470.3 518.1 459.4 519.2 447.5 520.4 434.9 521.5 421.5 522.7 407.5 523.9 393.2 525.0 378.6 526.1 364.0 527.3 349.4 528.5 335.0 529.6 321.0 530.8 307.5 531.9 294.7 533.0 282.7 534.2 271.6 535.4 261.6 536.5 252.8 537.6 245.3 538.8 239.2 540.0 234.5 541.1 231.3 542.2 229.7 543.4 229.6 544.5 231.1 545.7 234.2 546.9 238.8 548.0 244.9 549.1 252.5 550.3 261.4 551.5 271.6 552.6 283.1 553.8 295.5 554.9 308.9 556.0 323.1 557.2 338.0 558.4 353.3 559.5 369.0 560.6 384.8 561.8 400.6 563.0 416.2 564.1 431.5 565.2 446.3 566.4 460.5 567.5 473.7 568.7 486.1 569.9 497.3 571.0 507.3 572.1 515.9 573.3 523.1 574.5 528.7 575.6 532.8 576.8 535.2 577.9 535.9 579.0 534.9 580.2 532.3 581.4 527.9 582.5 521.9 583.6 514.4 584.8 505.3 586.0 494.8 587.1 483.0 588.2 470.0 589.4 456.0 590.5 441.0 591.7 425.3 592.9 409.0 594.0 392.3 595.1 375.3 596.3 358.3 597.5 341.4 598.6 324.9 599.8 308.7 600.9 293.3 602.0 278.7 603.2 265.1 604.4 252.6 605.5 241.3 606.6 231.5 607.8 223.2 609.0 216.5 610.1 211.5 611.2 208.3 612.4 206.8 613.5 207.2 614.7 209.4 615.9 213.3 617.0 219.1 618.1 226.6 619.3 235.7 620.5 246.3 621.6 258.4 622.8 271.9 623.9 286.5 625.0 302.1 626.2 318.6 627.4 335.9 628.5 353.6 629.6 371.6 630.8 389.8 632.0 408.0 633.1 425.8 634.2 443.3 635.4 460.0 636.5 476.0 637.7 491.0 638.9 504.8 640.0 517.3 641.1 528.4 642.3 537.9 643.5 545.7 644.6 551.7 645.8 555.9 646.9 558.2 648.0 558.5 649.2 556.9 650.4 553.4 651.5 548.0 652.6 540.7 653.8 531.7 655.0 520.9 656.1 508.6 657.2 494.8 658.4 479.7 659.5 463.4 660.7 446.1 661.9 428.0 663.0 409.4 664.1 390.2 665.3 370.9 666.5 351.6 667.6 332.4 668.8 313.7 669.9 295.5 671.0 278.2 672.2 261.8 673.4 246.6 674.5 232.8 675.6 220.4 676.8 209.7 678.0 200.7 679.1 193.6 680.2 188.4 681.4 185.2 682.5 184.0 683.7 184.9 684.9 187.9 686.0 192.9 687.1 199.9 688.3 208.8 689.5 219.6 690.6 232.0 691.8 246.1 692.9 261.6 694.0 278.5 695.2 296.4 696.4 315.3 697.5 334.9 698.6 355.0 699.8 375.5 701.0 396.0 702.1 416.4 703.2 436.5 704.4 456.0 705.5 474.7 706.7 492.5 707.9 509.1 709.0 524.3 710.1 538.0 711.3 550.0 712.5 560.3 713.6 568.6 714.8 574.9 715.9 579.1 717.0 581.1 718.2 581.0 719.4 578.7 720.5 574.2 721.6 567.6 722.8 558.9 724.0 548.2 725.1 535.7 726.2 521.4 727.4 505.6 728.5 488.3 729.7 469.7 730.9 450.1 732.0 429.6 733.1 408.5 734.3 387.0 735.5 365.3 736.6 343.7 737.8 322.3 738.9 301.4 740.0 281.3 741.2 262.1 742.4 244.1 743.5 227.5 744.6 212.3 745.8 198.9 747.0 187.4 748.1 177.8 749.2 170.4 750.4 165.1 751.5 162.1 752.7 161.4 753.9 162.9 755.0 166.8 756.1 172.9 757.3 181.3 758.5 191.7 759.6 204.2 760.8 218.6 761.9 234.7 763.0 252.4 764.2 271.5 765.4 291.8 766.5 313.1 767.6 335.1 768.8 357.6 770.0 380.5 771.1 403.3 772.2 426.0 773.4 448.2 774.5 469.7 775.7 490.3 776.9 509.8 778.0 527.9 779.1 544.5 780.3 559.3 781.5 572.2 782.6 583.1 783.8 591.8 784.9 598.2 786.0 602.3 787.2 604.0 788.4 603.2 789.5 600.1 790.6 594.5 791.8 586.6 793.0 576.4 794.1 564.1 795.2 549.7 796.4 533.4 797.5 515.4 798.7 495.9 799.9 475.0 801.0 453.0 802.1 430.1 803.3 406.6 804.5 382.6 805.6 358.6 806.8 334.7 807.9 311.1 809.0 288.2 810.2 266.1 811.4 245.2 812.5 225.6 813.6 207.5 814.8 191.3 816.0 176.9 817.1 164.7 818.2 154.7 819.4 147.0 820.5 141.8 821.7 139.0 822.9 138.9 824.0 141.2 825.1 146.1 826.3 153.5 827.5 163.3 828.6 175.4 829.8 189.7 830.9 206.0 832.0 224.3 833.2 244.2 834.4 265.6 835.5 288.3 836.6 312.0 837.8 336.4 839.0 361.4 840.1 386.6 841.2 411.8 842.4 436.7 843.5 461.0 844.7 484.5 845.9 506.9 847.0 528.0 848.1 547.5 849.3 565.3 850.5 581.2 851.6 594.8 852.8 606.2 853.9 615.2 855.0 621.7 856.2 625.5 857.4 626.7 858.5 625.3 859.6 621.1 860.8 614.4 862.0 605.1 863.1 593.3 864.2 579.2 865.4 562.8 866.5 544.5 867.7 524.3 868.9 502.4 870.0 479.1 871.1 454.7 872.3 429.4 873.5 403.4 874.6 377.1 875.8 350.7 876.9 324.5 878.0 298.8 879.2 273.9 880.4 250.0 881.5 227.3 882.6 206.3 883.8 186.9 885.0 169.6 886.1 154.4 887.2 141.6 888.4 131.2 889.5 123.5 890.7 118.4 891.9 116.1 893.0 116.6 894.1 119.8 895.3 125.8 896.5 134.6 897.6 145.9 898.8 159.8 899.9 176.0 901.0 194.4 902.2 214.8 903.4 237.0 904.5 260.8 905.6 285.9 906.8 312.0 908.0 338.9 909.1 366.3 910.2 393.9 911.4 421.3 912.5 448.4 913.7 474.8 914.9 500.2 916.0 524.4 917.1 547.0 918.3 567.9 919.5 586.8 920.6 603.5 921.8 617.9 922.9 629.7 924.0 638.8 925.2 645.2 926.4 648.7 927.5 649.3 928.6 647.0 929.8 641.8 931.0 633.8 932.1 622.9 933.2 609.5 934.4 593.5 935.5 575.1 936.7 554.6 937.9 532.1 939.0 507.9 940.1 482.2 941.3 455.3 942.5 427.6 943.6 399.2 944.8 370.5 945.9 341.7 947.0 313.3 948.2 285.5 949.4 258.6 950.5 232.9 951.6 208.7 952.8 186.2 954.0 165.6 955.1 147.3 956.2 131.4 957.4 118.1 958.5 107.5 959.7 99.8 960.9 95.0 962.0 93.2 963.1 94.5 964.3 98.8 965.5 106.0 966.6 116.2 967.8 129.2 968.9 144.9 970.0 163.1 971.2 183.7 972.4 206.3 973.5 230.9 974.6 257.1 975.8 284.6 977.0 313.2 978.1 342.5 979.2 372.3 980.4 402.3 981.5 432.0 982.7 461.2 983.9 489.6 985.0 516.9 986.1 542.7 987.3 566.8 988.5 589.0 989.6 608.9 990.8 626.4 991.9 641.3 993.0 653.4 994.2 662.6 995.4 668.7 996.5 671.8 997.6 671.7 998.8 668.4 1000.0 662.0 1001.1 652.6 1002.2 640.2 1003.4 624.9 1004.5 606.9 1005.7 586.5 1006.4 573.1" stroke="#a0f8a0" stroke-width="4.6" opacity="0.55"/>
<path d="M88.0 377.0L89.2 377.0 90.3 377.0 91.5 377.0 92.6 377.0 93.8 376.9 94.9 376.9 96.0 376.7 97.2 376.6 98.3 376.4 99.5 376.1 100.7 375.8 101.8 375.4 103.0 375.0 104.1 374.5 105.2 373.9 106.4 373.3 107.5 372.7 108.7 372.0 109.8 371.3 111.0 370.6 112.2 369.9 113.3 369.3 114.5 368.6 115.6 368.0 116.8 367.5 117.9 367.0 119.0 366.6 120.2 366.3 121.3 366.1 122.5 366.1 123.7 366.2 124.8 366.4 126.0 366.8 127.1 367.3 128.2 368.0 129.4 368.8 130.6 369.8 131.7 370.9 132.8 372.2 134.0 373.6 135.2 375.1 136.3 376.7 137.4 378.5 138.6 380.2 139.8 382.1 140.9 383.9 142.1 385.7 143.2 387.6 144.3 389.3 145.5 391.0 146.7 392.6 147.8 394.1 148.9 395.4 150.1 396.5 151.2 397.4 152.4 398.1 153.6 398.6 154.7 398.8 155.8 398.8 157.0 398.5 158.2 397.9 159.3 397.0 160.4 395.9 161.6 394.5 162.8 392.8 163.9 390.9 165.1 388.7 166.2 386.4 167.3 383.8 168.5 381.1 169.7 378.2 170.8 375.3 171.9 372.3 173.1 369.2 174.2 366.2 175.4 363.2 176.6 360.3 177.7 357.6 178.8 355.0 180.0 352.6 181.2 350.5 182.3 348.6 183.4 347.0 184.6 345.8 185.8 344.9 186.9 344.4 188.1 344.2 189.2 344.5 190.3 345.2 191.5 346.3 192.7 347.8 193.8 349.7 194.9 351.9 196.1 354.5 197.2 357.5 198.4 360.8 199.6 364.3 200.7 368.1 201.8 372.0 203.0 376.1 204.2 380.3 205.3 384.5 206.4 388.8 207.6 392.9 208.8 397.0 209.9 400.9 211.1 404.5 212.2 407.9 213.3 411.0 214.5 413.7 215.7 416.1 216.8 417.9 217.9 419.4 219.1 420.3 220.2 420.7 221.4 420.6 222.6 419.9 223.7 418.7 224.8 417.0 226.0 414.7 227.2 412.0 228.3 408.7 229.4 405.1 230.6 401.0 231.8 396.5 232.9 391.8 234.1 386.8 235.2 381.6 236.3 376.2 237.5 370.8 238.7 365.4 239.8 360.0 240.9 354.7 242.1 349.7 243.2 344.9 244.4 340.4 245.6 336.3 246.7 332.6 247.8 329.5 249.0 326.9 250.2 324.8 251.3 323.4 252.4 322.5 253.6 322.4 254.8 322.9 255.9 324.1 257.1 326.0 258.2 328.5 259.4 331.6 260.5 335.3 261.6 339.6 262.8 344.4 263.9 349.7 265.1 355.4 266.2 361.4 267.4 367.7 268.6 374.2 269.7 380.8 270.9 387.4 272.0 394.0 273.1 400.5 274.3 406.8 275.4 412.7 276.6 418.4 277.8 423.5 278.9 428.2 280.1 432.3 281.2 435.8 282.4 438.6 283.5 440.7 284.6 442.0 285.8 442.5 286.9 442.3 288.1 441.2 289.2 439.4 290.4 436.7 291.6 433.3 292.7 429.2 293.9 424.4 295.0 418.9 296.1 412.9 297.3 406.4 298.4 399.4 299.6 392.1 300.8 384.5 301.9 376.7 303.1 368.9 304.2 361.1 305.4 353.3 306.5 345.8 307.6 338.6 308.8 331.8 309.9 325.5 311.1 319.7 312.2 314.6 313.4 310.2 314.6 306.5 315.7 303.7 316.9 301.8 318.0 300.7 319.1 300.6 320.3 301.4 321.4 303.1 322.6 305.8 323.8 309.3 324.9 313.8 326.1 319.0 327.2 325.0 328.4 331.7 329.5 339.0 330.6 346.9 331.8 355.2 332.9 363.8 334.1 372.7 335.2 381.7 336.4 390.7 337.6 399.7 338.7 408.5 339.9 416.9 341.0 425.0 342.1 432.5 343.3 439.5 344.4 445.7 345.6 451.2 346.8 455.7 347.9 459.4 349.1 462.1 350.2 463.8 351.4 464.4 352.5 464.0 353.6 462.5 354.8 459.9 355.9 456.3 357.1 451.7 358.2 446.2 359.4 439.7 360.6 432.4 361.7 424.4 362.9 415.8 364.0 406.6 365.1 396.9 366.3 387.0 367.4 376.8 368.6 366.5 369.8 356.3 370.9 346.3 372.1 336.5 373.2 327.2 374.4 318.4 375.5 310.3 376.6 302.8 377.8 296.3 378.9 290.7 380.1 286.0 381.2 282.5 382.4 280.1 383.6 278.8 384.7 278.8 385.9 279.9 387.0 282.3 388.1 285.8 389.3 290.4 390.4 296.2 391.6 303.0 392.8 310.7 393.9 319.3 395.1 328.7 396.2 338.7 397.4 349.3 398.5 360.3 399.6 371.6 400.8 383.1 401.9 394.5 403.1 405.8 404.2 416.9 405.4 427.5 406.6 437.6 407.7 447.1 408.9 455.7 410.0 463.5 411.1 470.2 412.3 475.9 413.4 480.3 414.6 483.6 415.8 485.6 416.9 486.3 418.1 485.6 419.2 483.6 420.4 480.3 421.5 475.7 422.6 469.9 423.8 462.9 424.9 454.7 426.1 445.6 427.2 435.6 428.4 424.8 429.6 413.4 430.7 401.4 431.9 389.0 433.0 376.4 434.1 363.8 435.3 351.2 436.4 338.8 437.6 326.9 438.8 315.4 439.9 304.7 441.1 294.7 442.2 285.7 443.4 277.7 444.5 270.9 445.6 265.4 446.8 261.2 447.9 258.4 449.1 257.0 450.2 257.0 451.4 258.6 452.6 261.5 453.7 266.0 454.9 271.8 456.0 278.9 457.1 287.2 458.3 296.7 459.4 307.3 460.6 318.8 461.8 331.0 462.9 343.9 464.1 357.3 465.2 371.0 466.4 384.8 467.5 398.7 468.6 412.3 469.8 425.7 470.9 438.5 472.1 450.6 473.2 461.9 474.4 472.2 475.6 481.5 476.7 489.5 477.9 496.2 479.0 501.4 480.1 505.2 481.3 507.4 482.4 508.1 483.6 507.2 484.8 504.6 485.9 500.5 487.1 494.9 488.2 487.8 489.4 479.3 490.5 469.5 491.6 458.5 492.8 446.4 493.9 433.5 495.1 419.7 496.2 405.4 497.4 390.7 498.6 375.7 499.7 360.6 500.9 345.6 502.0 331.0 503.1 316.8 504.3 303.3 505.4 290.6 506.6 278.9 507.8 268.3 508.9 259.0 510.1 251.0 511.2 244.6 512.4 239.8 513.5 236.6 514.6 235.1 515.8 235.3 517.0 237.3 518.1 240.9 519.2 246.3 520.4 253.3 521.5 261.8 522.7 271.8 523.9 283.1 525.0 295.6 526.1 309.2 527.3 323.7 528.5 338.9 529.6 354.7 530.8 370.8 531.9 387.0 533.0 403.3 534.2 419.3 535.4 434.8 536.5 449.8 537.6 463.9 538.8 477.0 540.0 489.0 541.1 499.7 542.2 508.9 543.4 516.6 544.5 522.6 545.7 526.9 546.9 529.3 548.0 529.9 549.1 528.7 550.3 525.6 551.5 520.6 552.6 513.9 553.8 505.4 554.9 495.4 556.0 483.9 557.2 471.0 558.4 456.9 559.5 441.7 560.6 425.7 561.8 409.0 563.0 391.9 564.1 374.4 565.2 356.9 566.4 339.6 567.5 322.7 568.7 306.3 569.9 290.7 571.0 276.1 572.1 262.7 573.3 250.6 574.5 240.0 575.6 230.9 576.8 223.7 577.9 218.3 579.0 214.7 580.2 213.2 581.4 213.6 582.5 216.1 583.6 220.5 584.8 226.8 586.0 235.0 587.1 245.0 588.2 256.6 589.4 269.8 590.5 284.3 591.7 300.0 592.9 316.8 594.0 334.3 595.1 352.5 596.3 371.0 597.5 389.7 598.6 408.3 599.8 426.6 600.9 444.4 602.0 461.5 603.2 477.6 604.4 492.5 605.5 506.1 606.6 518.2 607.8 528.6 609.0 537.2 610.1 543.9 611.2 548.6 612.4 551.2 613.5 551.7 614.7 550.1 615.9 546.4 617.0 540.5 618.1 532.7 619.3 522.9 620.5 511.3 621.6 498.0 622.8 483.1 623.9 466.9 625.0 449.6 626.2 431.3 627.4 412.2 628.5 392.6 629.6 372.8 630.8 352.9 632.0 333.2 633.1 314.0 634.2 295.5 635.4 277.9 636.5 261.4 637.7 246.2 638.9 232.6 640.0 220.7 641.1 210.7 642.3 202.6 643.5 196.6 644.6 192.9 645.8 191.3 646.9 192.0 648.0 195.0 649.2 200.2 650.4 207.5 651.5 217.0 652.6 228.5 653.8 241.8 655.0 256.8 656.1 273.4 657.2 291.3 658.4 310.3 659.5 330.2 660.7 350.7 661.9 371.7 663.0 392.8 664.1 413.8 665.3 434.4 666.5 454.4 667.6 473.5 668.8 491.6 669.9 508.3 671.0 523.5 672.2 537.0 673.4 548.5 674.5 558.0 675.6 565.4 676.8 570.4 678.0 573.2 679.1 573.5 680.2 571.5 681.4 567.0 682.5 560.3 683.7 551.2 684.9 540.1 686.0 526.8 687.1 511.7 688.3 494.9 689.5 476.6 690.6 457.0 691.8 436.4 692.9 414.9 694.0 393.0 695.2 370.7 696.4 348.4 697.5 326.4 698.6 304.9 699.8 284.2 701.0 264.6 702.1 246.3 703.2 229.5 704.4 214.4 705.5 201.3 706.7 190.2 707.9 181.4 709.0 175.0 710.1 170.9 711.3 169.4 712.5 170.4 713.6 174.0 714.8 180.0 715.9 188.4 717.0 199.2 718.2 212.2 719.4 227.3 720.5 244.2 721.6 262.8 722.8 282.9 724.0 304.2 725.1 326.4 726.2 349.4 727.4 372.8 728.5 396.3 729.7 419.6 730.9 442.6 732.0 464.8 733.1 486.0 734.3 506.0 735.5 524.4 736.6 541.1 737.8 555.9 738.9 568.6 740.0 579.0 741.2 586.9 742.4 592.3 743.5 595.1 744.6 595.3 745.8 592.7 747.0 587.6 748.1 579.8 749.2 569.6 750.4 557.0 751.5 542.1 752.7 525.2 753.9 506.4 755.0 485.9 756.1 464.1 757.3 441.1 758.5 417.3 759.6 392.9 760.8 368.2 761.9 343.5 763.0 319.2 764.2 295.4 765.4 272.6 766.5 251.0 767.6 230.9 768.8 212.4 770.0 195.9 771.1 181.6 772.2 169.6 773.4 160.1 774.5 153.2 775.7 149.0 776.9 147.6 778.0 148.9 779.1 153.1 780.3 160.0 781.5 169.5 782.6 181.7 783.8 196.2 784.9 213.0 786.0 231.9 787.2 252.6 788.4 274.9 789.5 298.5 790.6 323.1 791.8 348.5 793.0 374.3 794.1 400.2 795.2 425.9 796.4 451.1 797.5 475.5 798.7 498.8 799.9 520.6 801.0 540.8 802.1 559.1 803.3 575.1 804.5 588.9 805.6 600.0 806.8 608.5 807.9 614.2 809.0 617.0 810.2 616.9 811.4 613.9 812.5 608.0 813.6 599.2 814.8 587.7 816.0 573.6 817.1 557.1 818.2 538.3 819.4 517.5 820.5 494.9 821.7 470.8 822.9 445.4 824.0 419.2 825.1 392.3 826.3 365.2 827.5 338.2 828.6 311.5 829.8 285.6 830.9 260.6 832.0 237.1 833.2 215.1 834.4 195.1 835.5 177.2 836.6 161.7 837.8 148.8 839.0 138.6 840.1 131.3 841.2 127.0 842.4 125.7 843.5 127.5 844.7 132.3 845.9 140.1 847.0 150.9 848.1 164.4 849.3 180.5 850.5 199.1 851.6 220.0 852.8 242.8 853.9 267.3 855.0 293.2 856.2 320.2 857.4 348.0 858.5 376.2 859.6 404.6 860.8 432.6 862.0 460.1 863.1 486.7 864.2 512.0 865.4 535.7 866.5 557.5 867.7 577.3 868.9 594.6 870.0 609.3 871.1 621.3 872.3 630.3 873.5 636.2 874.6 639.0 875.8 638.6 876.9 635.0 878.0 628.3 879.2 618.4 880.4 605.7 881.5 590.0 882.6 571.8 883.8 551.1 885.0 528.2 886.1 503.4 887.2 477.0 888.4 449.3 889.5 420.6 890.7 391.4 891.9 361.8 893.0 332.4 894.1 303.4 895.3 275.3 896.5 248.3 897.6 222.8 898.8 199.1 899.9 177.5 901.0 158.3 902.2 141.6 903.4 127.9 904.5 117.1 905.6 109.4 906.8 105.0 908.0 103.9 909.1 106.1 910.2 111.7 911.4 120.4 912.5 132.4 913.7 147.3 914.9 165.1 916.0 185.5 917.1 208.4 918.3 233.3 919.5 260.1 920.6 288.3 921.8 317.7 922.9 348.0 924.0 378.6 925.2 409.4 926.4 439.8 927.5 469.5 928.6 498.2 929.8 525.5 931.0 551.0 932.1 574.5 933.2 595.7 934.4 614.2 935.5 629.9 936.7 642.6 937.9 652.1 939.0 658.2 940.1 660.9 941.3 660.2 942.5 656.0 943.6 648.4 944.8 637.5 945.9 623.3 947.0 606.1 948.2 586.1 949.4 563.5 950.5 538.5 951.6 511.6 952.8 482.8 954.0 452.8 955.1 421.7 956.2 390.0 957.4 358.0 958.5 326.2 959.7 295.0 960.9 264.6 962.0 235.6 963.1 208.1 964.3 182.7 965.5 159.6 966.6 139.1 967.8 121.4 968.9 106.8 970.0 95.4 971.2 87.4 972.4 83.0 973.5 82.1 974.6 84.8 975.8 91.1 977.0 100.9 978.1 114.1 979.2 130.5 980.4 150.0 981.5 172.3 982.7 197.1 983.9 224.2 985.0 253.3 986.1 283.9 987.3 315.7 988.5 348.4 989.6 381.4 990.8 414.6 991.9 447.3 993.0 479.3 994.2 510.1 995.4 539.4 996.5 566.7 997.6 591.8 998.8 614.4 1000.0 634.1 1001.1 650.8 1002.2 664.1 1003.4 674.0 1004.5 680.2 1005.7 682.8 1006.4 682.6" stroke="#2424aa" stroke-width="2"/>
<path d="M88.0 377.0L89.2 377.0 90.3 377.0 91.5 377.0 92.6 376.9 93.8 376.9 94.9 376.8 96.0 376.6 97.2 376.5 98.3 376.2 99.5 375.9 100.7 375.6 101.8 375.2 103.0 374.7 104.1 374.2 105.2 373.7 106.4 373.1 107.5 372.5 108.7 371.8 109.8 371.1 111.0 370.4 112.2 369.8 113.3 369.1 114.5 368.5 115.6 367.9 116.8 367.3 117.9 366.8 119.0 366.4 120.2 366.1 121.3 365.9 122.5 365.8 123.7 365.9 124.8 366.0 126.0 366.3 127.1 366.8 128.2 367.4 129.4 368.1 130.6 369.0 131.7 370.0 132.8 371.1 134.0 372.4 135.2 373.8 136.3 375.3 137.4 376.9 138.6 378.6 139.8 380.4 140.9 382.1 142.1 384.0 143.2 385.8 144.3 387.5 145.5 389.3 146.7 391.0 147.8 392.5 148.9 394.0 150.1 395.3 151.2 396.5 152.4 397.5 153.6 398.3 154.7 398.9 155.8 399.2 157.0 399.3 158.2 399.2 159.3 398.8 160.4 398.1 161.6 397.2 162.8 396.0 163.9 394.6 165.1 392.9 166.2 391.0 167.3 388.9 168.5 386.6 169.7 384.1 170.8 381.4 171.9 378.7 173.1 375.8 174.2 372.9 175.4 369.9 176.6 366.9 177.7 364.0 178.8 361.1 180.0 358.4 181.2 355.7 182.3 353.3 183.4 351.1 184.6 349.1 185.8 347.3 186.9 345.9 188.1 344.8 189.2 344.0 190.3 343.6 191.5 343.5 192.7 343.8 193.8 344.6 194.9 345.6 196.1 347.1 197.2 348.9 198.4 351.1 199.6 353.7 200.7 356.5 201.8 359.6 203.0 363.0 204.2 366.7 205.3 370.5 206.4 374.4 207.6 378.5 208.8 382.6 209.9 386.8 211.1 390.9 212.2 394.9 213.3 398.9 214.5 402.6 215.7 406.1 216.8 409.4 217.9 412.3 219.1 414.9 220.2 417.1 221.4 418.9 222.6 420.3 223.7 421.2 224.8 421.6 226.0 421.6 227.2 421.0 228.3 419.9 229.4 418.3 230.6 416.2 231.8 413.7 232.9 410.6 234.1 407.2 235.2 403.4 236.3 399.2 237.5 394.7 238.7 389.9 239.8 384.9 240.9 379.7 242.1 374.5 243.2 369.2 244.4 363.8 245.6 358.6 246.7 353.5 247.8 348.6 249.0 343.9 250.2 339.5 251.3 335.5 252.4 331.9 253.6 328.8 254.8 326.1 255.9 324.0 257.1 322.5 258.2 321.5 259.4 321.2 260.5 321.5 261.6 322.4 262.8 323.9 263.9 326.1 265.1 328.8 266.2 332.2 267.4 336.1 268.6 340.5 269.7 345.3 270.9 350.6 272.0 356.3 273.1 362.2 274.3 368.4 275.4 374.8 276.6 381.3 277.8 387.8 278.9 394.2 280.1 400.6 281.2 406.7 282.4 412.6 283.5 418.2 284.6 423.4 285.8 428.1 286.9 432.3 288.1 435.9 289.2 438.9 290.4 441.2 291.6 442.9 292.7 443.8 293.9 444.0 295.0 443.4 296.1 442.1 297.3 440.0 298.4 437.2 299.6 433.7 300.8 429.5 301.9 424.7 303.1 419.2 304.2 413.3 305.4 406.9 306.5 400.1 307.6 392.9 308.8 385.5 309.9 377.9 311.1 370.3 312.2 362.6 313.4 355.0 314.6 347.6 315.7 340.4 316.9 333.6 318.0 327.2 319.1 321.2 320.3 315.9 321.4 311.2 322.6 307.2 323.8 303.9 324.9 301.4 326.1 299.7 327.2 298.9 328.4 299.0 329.5 299.9 330.6 301.7 331.8 304.4 332.9 307.9 334.1 312.3 335.2 317.3 336.4 323.2 337.6 329.6 338.7 336.7 339.9 344.3 341.0 352.3 342.1 360.7 343.3 369.3 344.4 378.1 345.6 386.9 346.8 395.8 347.9 404.5 349.1 412.9 350.2 421.1 351.4 428.8 352.5 436.0 353.6 442.6 354.8 448.5 355.9 453.7 357.1 458.0 358.2 461.5 359.4 464.1 360.6 465.7 361.7 466.3 362.9 465.9 364.0 464.6 365.1 462.2 366.3 458.8 367.4 454.6 368.6 449.4 369.8 443.3 370.9 436.5 372.1 428.9 373.2 420.7 374.4 411.9 375.5 402.7 376.6 393.1 377.8 383.2 378.9 373.2 380.1 363.2 381.2 353.2 382.4 343.4 383.6 333.9 384.7 324.9 385.9 316.3 387.0 308.4 388.1 301.2 389.3 294.7 390.4 289.2 391.6 284.5 392.8 280.9 393.9 278.4 395.1 276.9 396.2 276.5 397.4 277.3 398.5 279.2 399.6 282.2 400.8 286.3 401.9 291.4 403.1 297.5 404.2 304.6 405.4 312.5 406.6 321.3 407.7 330.7 408.9 340.7 410.0 351.1 411.1 362.0 412.3 373.0 413.4 384.3 414.6 395.5 415.8 406.5 416.9 417.4 418.1 427.8 419.2 437.8 420.4 447.1 421.5 455.7 422.6 463.5 423.8 470.4 424.9 476.3 426.1 481.1 427.2 484.7 428.4 487.2 429.6 488.5 430.7 488.5 431.9 487.3 433.0 484.8 434.1 481.1 435.3 476.2 436.4 470.2 437.6 463.0 438.8 454.9 439.9 445.8 441.1 435.9 442.2 425.3 443.4 414.1 444.5 402.4 445.6 390.3 446.8 378.0 447.9 365.6 449.1 353.2 450.2 341.1 451.4 329.2 452.6 317.8 453.7 307.1 454.9 297.0 456.0 287.7 457.1 279.5 458.3 272.2 459.4 266.1 460.6 261.2 461.8 257.5 462.9 255.2 464.1 254.2 465.2 254.6 466.4 256.4 467.5 259.5 468.6 264.0 469.8 269.7 470.9 276.8 472.1 284.9 473.2 294.2 474.4 304.4 475.6 315.5 476.7 327.4 477.9 339.9 479.0 352.9 480.1 366.2 481.3 379.7 482.4 393.3 483.6 406.8 484.8 420.0 485.9 432.8 487.1 445.1 488.2 456.7 489.4 467.4 490.5 477.2 491.6 485.9 492.8 493.5 493.9 499.8 495.1 504.7 496.2 508.3 497.4 510.4 498.6 511.0 499.7 510.1 500.9 507.7 502.0 503.8 503.1 498.5 504.3 491.8 505.4 483.8 506.6 474.5 507.8 464.1 508.9 452.7 510.1 440.3 511.2 427.2 512.4 413.4 513.5 399.2 514.6 384.6 515.8 369.9 517.0 355.1 518.1 340.5 519.2 326.3 520.4 312.5 521.5 299.4 522.7 287.1 523.9 275.8 525.0 265.5 526.1 256.4 527.3 248.6 528.5 242.2 529.6 237.3 530.8 233.9 531.9 232.2 533.0 232.0 534.2 233.4 535.4 236.5 536.5 241.2 537.6 247.4 538.8 255.1 540.0 264.2 541.1 274.6 542.2 286.2 543.4 298.9 544.5 312.5 545.7 327.0 546.9 342.0 548.0 357.5 549.1 373.4 550.3 389.3 551.5 405.2 552.6 420.8 553.8 436.1 554.9 450.7 556.0 464.6 557.2 477.6 558.4 489.5 559.5 500.2 560.6 509.6 561.8 517.5 563.0 523.9 564.1 528.7 565.2 531.8 566.4 533.2 567.5 532.9 568.7 530.8 569.9 526.9 571.0 521.4 572.1 514.2 573.3 505.5 574.5 495.3 575.6 483.6 576.8 470.8 577.9 456.8 579.0 441.9 580.2 426.2 581.4 409.8 582.5 393.0 583.6 376.0 584.8 358.8 586.0 341.8 587.1 325.2 588.2 309.0 589.4 293.5 590.5 278.9 591.7 265.3 592.9 252.9 594.0 241.8 595.1 232.2 596.3 224.2 597.5 217.8 598.6 213.2 599.8 210.5 600.9 209.5 602.0 210.5 603.2 213.3 604.4 218.0 605.5 224.4 606.6 232.6 607.8 242.5 609.0 253.9 610.1 266.7 611.2 280.9 612.4 296.2 613.5 312.4 614.7 329.4 615.9 347.1 617.0 365.2 618.1 383.4 619.3 401.7 620.5 419.8 621.6 437.5 622.8 454.6 623.9 470.9 625.0 486.2 626.2 500.3 627.4 513.1 628.5 524.5 629.6 534.2 630.8 542.3 632.0 548.5 633.1 552.8 634.2 555.2 635.4 555.5 636.5 553.9 637.7 550.3 638.9 544.8 640.0 537.3 641.1 528.0 642.3 517.0 643.5 504.3 644.6 490.2 645.8 474.8 646.9 458.1 648.0 440.6 649.2 422.2 650.4 403.2 651.5 383.9 652.6 364.4 653.8 345.0 655.0 325.9 656.1 307.2 657.2 289.3 658.4 272.3 659.5 256.4 660.7 241.7 661.9 228.5 663.0 217.0 664.1 207.1 665.3 199.2 666.5 193.2 667.6 189.2 668.8 187.4 669.9 187.6 671.0 190.0 672.2 194.4 673.4 201.0 674.5 209.5 675.6 219.9 676.8 232.2 678.0 246.1 679.1 261.5 680.2 278.3 681.4 296.3 682.5 315.2 683.7 334.9 684.9 355.2 686.0 375.7 687.1 396.4 688.3 416.9 689.5 437.1 690.6 456.6 691.8 475.4 692.9 493.1 694.0 509.6 695.2 524.6 696.4 538.1 697.5 549.8 698.6 559.6 699.8 567.4 701.0 573.1 702.1 576.7 703.2 578.0 704.4 577.0 705.5 573.8 706.7 568.4 707.9 560.9 709.0 551.2 710.1 539.6 711.3 526.1 712.5 510.8 713.6 494.0 714.8 475.9 715.9 456.6 717.0 436.3 718.2 415.2 719.4 393.7 720.5 371.9 721.6 350.1 722.8 328.5 724.0 307.3 725.1 286.9 726.2 267.4 727.4 249.1 728.5 232.1 729.7 216.7 730.9 203.0 732.0 191.2 733.1 181.5 734.3 173.9 735.5 168.6 736.6 165.6 737.8 164.9 738.9 166.6 740.0 170.7 741.2 177.1 742.4 185.8 743.5 196.6 744.6 209.5 745.8 224.3 747.0 240.9 748.1 259.1 749.2 278.6 750.4 299.4 751.5 321.0 752.7 343.4 753.9 366.2 755.0 389.2 756.1 412.2 757.3 434.8 758.5 456.9 759.6 478.1 760.8 498.3 761.9 517.2 763.0 534.6 764.2 550.3 765.4 564.1 766.5 575.9 767.6 585.5 768.8 592.7 770.0 597.6 771.1 600.0 772.2 600.0 773.4 597.4 774.5 592.3 775.7 584.9 776.9 575.0 778.0 563.0 779.1 548.8 780.3 532.6 781.5 514.6 782.6 495.0 783.8 474.1 784.9 452.0 786.0 428.9 787.2 405.3 788.4 381.2 789.5 357.0 790.6 332.9 791.8 309.3 793.0 286.3 794.1 264.3 795.2 243.4 796.4 224.0 797.5 206.3 798.7 190.4 799.9 176.5 801.0 164.9 802.1 155.5 803.3 148.7 804.5 144.3 805.6 142.6 806.8 143.4 807.9 146.9 809.0 153.0 810.2 161.6 811.4 172.7 812.5 186.0 813.6 201.6 814.8 219.2 816.0 238.5 817.1 259.6 818.2 281.9 819.4 305.5 820.5 329.8 821.7 354.8 822.9 380.2 824.0 405.5 825.1 430.7 826.3 455.3 827.5 479.1 828.6 501.8 829.8 523.2 830.9 543.1 832.0 561.1 833.2 577.1 834.4 591.0 835.5 602.5 836.6 611.5 837.8 617.9 839.0 621.6 840.1 622.6 841.2 620.9 842.4 616.4 843.5 609.2 844.7 599.4 845.9 587.1 847.0 572.3 848.1 555.4 849.3 536.4 850.5 515.6 851.6 493.1 852.8 469.3 853.9 444.4 855.0 418.6 856.2 392.3 857.4 365.8 858.5 339.2 859.6 313.1 860.8 287.6 862.0 263.0 863.1 239.6 864.2 217.7 865.4 197.4 866.5 179.2 867.7 163.1 868.9 149.4 870.0 138.1 871.1 129.5 872.3 123.7 873.5 120.7 874.6 120.5 875.8 123.2 876.9 128.7 878.0 137.1 879.2 148.2 880.4 161.8 881.5 177.9 882.6 196.3 883.8 216.8 885.0 239.1 886.1 263.0 887.2 288.3 888.4 314.6 889.5 341.7 890.7 369.3 891.9 397.0 893.0 424.6 894.1 451.8 895.3 478.2 896.5 503.5 897.6 527.5 898.8 549.9 899.9 570.4 901.0 588.8 902.2 604.8 903.4 618.4 904.5 629.3 905.6 637.4 906.8 642.6 908.0 644.9 909.1 644.1 910.2 640.4 911.4 633.7 912.5 624.1 913.7 611.7 914.9 596.7 916.0 579.1 917.1 559.3 918.3 537.3 919.5 513.5 920.6 488.1 921.8 461.4 922.9 433.7 924.0 405.2 925.2 376.4 926.4 347.5 927.5 318.8 928.6 290.7 929.8 263.5 931.0 237.5 932.1 213.0 933.2 190.2 934.4 169.5 935.5 151.1 936.7 135.1 937.9 121.8 939.0 111.3 940.1 103.8 941.3 99.3 942.5 97.9 943.6 99.6 944.8 104.4 945.9 112.3 947.0 123.2 948.2 137.0 949.4 153.4 950.5 172.5 951.6 193.8 952.8 217.3 954.0 242.6 955.1 269.5 956.2 297.7 957.4 326.8 958.5 356.6 959.7 386.7 960.9 416.7 962.0 446.4 963.1 475.4 964.3 503.4 965.5 530.0 966.6 555.0 967.8 578.0 968.9 598.9 970.0 617.3 971.2 633.1 972.4 646.0 973.5 656.0 974.6 662.9 975.8 666.6 977.0 667.1 978.1 664.3 979.2 658.3 980.4 649.1 981.5 636.9 982.7 621.7 983.9 603.8 985.0 583.2 986.1 560.3 987.3 535.3 988.5 508.4 989.6 480.1 990.8 450.4 991.9 419.9 993.0 388.8 994.2 357.6 995.4 326.4 996.5 295.7 997.6 265.9 998.8 237.2 1000.0 210.1 1001.1 184.7 1002.2 161.4 1003.4 140.5 1004.5 122.2 1005.7 106.7 1006.4 98.8" stroke="#cc4ccc" stroke-width="2"/>
<path d="M88.0 377.0L89.2 377.0 90.3 377.0 91.5 377.0 92.6 376.9 93.8 376.9 94.9 376.8 96.0 376.7 97.2 376.5 98.3 376.3 99.5 376.0 100.7 375.7 101.8 375.3 103.0 374.9 104.1 374.4 105.2 373.9 106.4 373.3 107.5 372.7 108.7 372.0 109.8 371.4 111.0 370.7 112.2 370.0 113.3 369.3 114.5 368.7 115.6 368.1 116.8 367.5 117.9 367.0 119.0 366.5 120.2 366.2 121.3 365.9 122.5 365.7 123.7 365.6 124.8 365.7 126.0 365.9 127.1 366.2 128.2 366.7 129.4 367.3 130.6 368.0 131.7 368.9 132.8 369.9 134.0 371.1 135.2 372.4 136.3 373.8 137.4 375.3 138.6 376.9 139.8 378.5 140.9 380.3 142.1 382.0 143.2 383.8 144.3 385.6 145.5 387.4 146.7 389.1 147.8 390.8 148.9 392.4 150.1 393.9 151.2 395.3 152.4 396.5 153.6 397.5 154.7 398.4 155.8 399.0 157.0 399.5 158.2 399.7 159.3 399.7 160.4 399.4 161.6 398.9 162.8 398.1 163.9 397.0 165.1 395.8 166.2 394.2 167.3 392.5 168.5 390.5 169.7 388.3 170.8 385.9 171.9 383.4 173.1 380.7 174.2 377.9 175.4 375.1 176.6 372.1 177.7 369.2 178.8 366.2 180.0 363.3 181.2 360.5 182.3 357.8 183.4 355.2 184.6 352.8 185.8 350.6 186.9 348.6 188.1 346.9 189.2 345.4 190.3 344.3 191.5 343.5 192.7 343.1 193.8 343.0 194.9 343.2 196.1 343.9 197.2 344.9 198.4 346.3 199.6 348.0 200.7 350.1 201.8 352.5 203.0 355.3 204.2 358.3 205.3 361.6 206.4 365.1 207.6 368.8 208.8 372.7 209.9 376.7 211.1 380.8 212.2 384.9 213.3 389.0 214.5 393.1 215.7 397.1 216.8 400.9 217.9 404.5 219.1 407.9 220.2 411.0 221.4 413.8 222.6 416.3 223.7 418.4 224.8 420.1 226.0 421.3 227.2 422.1 228.3 422.4 229.4 422.2 230.6 421.6 231.8 420.4 232.9 418.8 234.1 416.6 235.2 414.1 236.3 411.1 237.5 407.6 238.7 403.8 239.8 399.6 240.9 395.2 242.1 390.4 243.2 385.5 244.4 380.4 245.6 375.1 246.7 369.9 247.8 364.6 249.0 359.3 250.2 354.2 251.3 349.3 252.4 344.6 253.6 340.1 254.8 336.0 255.9 332.3 257.1 329.0 258.2 326.2 259.4 323.9 260.5 322.1 261.6 320.9 262.8 320.3 263.9 320.3 265.1 320.9 266.2 322.1 267.4 323.9 268.6 326.3 269.7 329.3 270.9 332.9 272.0 336.9 273.1 341.4 274.3 346.4 275.4 351.8 276.6 357.5 277.8 363.5 278.9 369.7 280.1 376.0 281.2 382.5 282.4 388.9 283.5 395.4 284.6 401.6 285.8 407.7 286.9 413.6 288.1 419.1 289.2 424.2 290.4 428.9 291.6 433.1 292.7 436.7 293.9 439.7 295.0 442.1 296.1 443.8 297.3 444.8 298.4 445.1 299.6 444.7 300.8 443.5 301.9 441.6 303.1 439.0 304.2 435.7 305.4 431.7 306.5 427.1 307.6 421.9 308.8 416.2 309.9 410.0 311.1 403.4 312.2 396.4 313.4 389.1 314.6 381.7 315.7 374.1 316.9 366.4 318.0 358.8 319.1 351.3 320.3 344.1 321.4 337.1 322.6 330.4 323.8 324.2 324.9 318.5 326.1 313.4 327.2 308.9 328.4 305.1 329.5 302.0 330.6 299.7 331.8 298.2 332.9 297.6 334.1 297.8 335.2 298.8 336.4 300.7 337.6 303.4 338.7 307.0 339.9 311.3 341.0 316.4 342.1 322.1 343.3 328.5 344.4 335.5 345.6 343.0 346.8 351.0 347.9 359.2 349.1 367.8 350.2 376.5 351.4 385.3 352.5 394.1 353.6 402.8 354.8 411.3 355.9 419.4 357.1 427.3 358.2 434.6 359.4 441.4 360.6 447.5 361.7 452.9 362.9 457.6 364.0 461.5 365.1 464.4 366.3 466.5 367.4 467.6 368.6 467.8 369.8 466.9 370.9 465.1 372.1 462.4 373.2 458.7 374.4 454.1 375.5 448.6 376.6 442.4 377.8 435.3 378.9 427.6 380.1 419.3 381.2 410.5 382.4 401.2 383.6 391.6 384.7 381.8 385.9 371.8 387.0 361.9 388.1 352.0 389.3 342.3 390.4 332.9 391.6 323.9 392.8 315.4 393.9 307.5 395.1 300.3 396.2 293.8 397.4 288.2 398.5 283.5 399.6 279.8 400.8 277.1 401.9 275.4 403.1 274.8 404.2 275.4 405.4 277.0 406.6 279.6 407.7 283.4 408.9 288.2 410.0 293.9 411.1 300.6 412.3 308.2 413.4 316.6 414.6 325.6 415.8 335.3 416.9 345.5 418.1 356.1 419.2 367.0 420.4 378.1 421.5 389.3 422.6 400.4 423.8 411.3 424.9 421.9 426.1 432.2 427.2 441.9 428.4 450.9 429.6 459.3 430.7 466.8 431.9 473.4 433.0 479.0 434.1 483.6 435.3 487.0 436.4 489.3 437.6 490.4 438.8 490.3 439.9 489.0 441.1 486.4 442.2 482.7 443.4 477.9 444.5 471.9 445.6 464.8 446.8 456.8 447.9 447.8 449.1 438.1 450.2 427.6 451.4 416.5 452.6 404.9 453.7 393.0 454.9 380.8 456.0 368.5 457.1 356.2 458.3 344.0 459.4 332.1 460.6 320.7 461.8 309.7 462.9 299.5 464.1 289.9 465.2 281.3 466.4 273.6 467.5 267.0 468.6 261.5 469.8 257.3 470.9 254.3 472.1 252.6 473.2 252.2 474.4 253.1 475.6 255.4 476.7 259.0 477.9 263.9 479.0 270.0 480.1 277.3 481.3 285.7 482.4 295.2 483.6 305.6 484.8 316.8 485.9 328.7 487.1 341.2 488.2 354.1 489.4 367.4 490.5 380.9 491.6 394.4 492.8 407.8 493.9 420.9 495.1 433.6 496.2 445.8 497.4 457.4 498.6 468.1 499.7 477.9 500.9 486.7 502.0 494.4 503.1 500.8 504.3 506.0 505.4 509.8 506.6 512.2 507.8 513.2 508.9 512.7 510.1 510.8 511.2 507.4 512.4 502.6 513.5 496.4 514.6 488.9 515.8 480.2 517.0 470.3 518.1 459.4 519.2 447.5 520.4 434.9 521.5 421.5 522.7 407.5 523.9 393.2 525.0 378.6 526.1 364.0 527.3 349.4 528.5 335.0 529.6 321.0 530.8 307.5 531.9 294.7 533.0 282.7 534.2 271.6 535.4 261.6 536.5 252.8 537.6 245.3 538.8 239.2 540.0 234.5 541.1 231.3 542.2 229.7 543.4 229.6 544.5 231.1 545.7 234.2 546.9 238.8 548.0 244.9 549.1 252.5 550.3 261.4 551.5 271.6 552.6 283.1 553.8 295.5 554.9 308.9 556.0 323.1 557.2 338.0 558.4 353.3 559.5 369.0 560.6 384.8 561.8 400.6 563.0 416.2 564.1 431.5 565.2 446.3 566.4 460.5 567.5 473.7 568.7 486.1 569.9 497.3 571.0 507.3 572.1 515.9 573.3 523.1 574.5 528.7 575.6 532.8 576.8 535.2 577.9 535.9 579.0 534.9 580.2 532.3 581.4 527.9 582.5 521.9 583.6 514.4 584.8 505.3 586.0 494.8 587.1 483.0 588.2 470.0 589.4 456.0 590.5 441.0 591.7 425.3 592.9 409.0 594.0 392.3 595.1 375.3 596.3 358.3 597.5 341.4 598.6 324.9 599.8 308.7 600.9 293.3 602.0 278.7 603.2 265.1 604.4 252.6 605.5 241.3 606.6 231.5 607.8 223.2 609.0 216.5 610.1 211.5 611.2 208.3 612.4 206.8 613.5 207.2 614.7 209.4 615.9 213.3 617.0 219.1 618.1 226.6 619.3 235.7 620.5 246.3 621.6 258.4 622.8 271.9 623.9 286.5 625.0 302.1 626.2 318.6 627.4 335.9 628.5 353.6 629.6 371.6 630.8 389.8 632.0 408.0 633.1 425.8 634.2 443.3 635.4 460.0 636.5 476.0 637.7 491.0 638.9 504.8 640.0 517.3 641.1 528.4 642.3 537.9 643.5 545.7 644.6 551.7 645.8 555.9 646.9 558.2 648.0 558.5 649.2 556.9 650.4 553.4 651.5 548.0 652.6 540.7 653.8 531.7 655.0 520.9 656.1 508.6 657.2 494.8 658.4 479.7 659.5 463.4 660.7 446.1 661.9 428.0 663.0 409.4 664.1 390.2 665.3 370.9 666.5 351.6 667.6 332.4 668.8 313.7 669.9 295.5 671.0 278.2 672.2 261.8 673.4 246.6 674.5 232.8 675.6 220.4 676.8 209.7 678.0 200.7 679.1 193.6 680.2 188.4 681.4 185.2 682.5 184.0 683.7 184.9 684.9 187.9 686.0 192.9 687.1 199.9 688.3 208.8 689.5 219.6 690.6 232.0 691.8 246.1 692.9 261.6 694.0 278.5 695.2 296.4 696.4 315.3 697.5 334.9 698.6 355.0 699.8 375.5 701.0 396.0 702.1 416.4 703.2 436.5 704.4 456.0 705.5 474.7 706.7 492.5 707.9 509.1 709.0 524.3 710.1 538.0 711.3 550.0 712.5 560.3 713.6 568.6 714.8 574.9 715.9 579.1 717.0 581.1 718.2 581.0 719.4 578.7 720.5 574.2 721.6 567.6 722.8 558.9 724.0 548.2 725.1 535.7 726.2 521.4 727.4 505.6 728.5 488.3 729.7 469.7 730.9 450.1 732.0 429.6 733.1 408.5 734.3 387.0 735.5 365.3 736.6 343.7 737.8 322.3 738.9 301.4 740.0 281.3 741.2 262.1 742.4 244.1 743.5 227.5 744.6 212.3 745.8 198.9 747.0 187.4 748.1 177.8 749.2 170.4 750.4 165.1 751.5 162.1 752.7 161.4 753.9 162.9 755.0 166.8 756.1 172.9 757.3 181.3 758.5 191.7 759.6 204.2 760.8 218.6 761.9 234.7 763.0 252.4 764.2 271.5 765.4 291.8 766.5 313.1 767.6 335.1 768.8 357.6 770.0 380.5 771.1 403.3 772.2 426.0 773.4 448.2 774.5 469.7 775.7 490.3 776.9 509.8 778.0 527.9 779.1 544.5 780.3 559.3 781.5 572.2 782.6 583.1 783.8 591.8 784.9 598.2 786.0 602.3 787.2 604.0 788.4 603.2 789.5 600.1 790.6 594.5 791.8 586.6 793.0 576.4 794.1 564.1 795.2 549.7 796.4 533.4 797.5 515.4 798.7 495.9 799.9 475.0 801.0 453.0 802.1 430.1 803.3 406.6 804.5 382.6 805.6 358.6 806.8 334.7 807.9 311.1 809.0 288.2 810.2 266.1 811.4 245.2 812.5 225.6 813.6 207.5 814.8 191.3 816.0 176.9 817.1 164.7 818.2 154.7 819.4 147.0 820.5 141.8 821.7 139.0 822.9 138.9 824.0 141.2 825.1 146.1 826.3 153.5 827.5 163.3 828.6 175.4 829.8 189.7 830.9 206.0 832.0 224.3 833.2 244.2 834.4 265.6 835.5 288.3 836.6 312.0 837.8 336.4 839.0 361.4 840.1 386.6 841.2 411.8 842.4 436.7 843.5 461.0 844.7 484.5 845.9 506.9 847.0 528.0 848.1 547.5 849.3 565.3 850.5 581.2 851.6 594.8 852.8 606.2 853.9 615.2 855.0 621.7 856.2 625.5 857.4 626.7 858.5 625.3 859.6 621.1 860.8 614.4 862.0 605.1 863.1 593.3 864.2 579.2 865.4 562.8 866.5 544.5 867.7 524.3 868.9 502.4 870.0 479.1 871.1 454.7 872.3 429.4 873.5 403.4 874.6 377.1 875.8 350.7 876.9 324.5 878.0 298.8 879.2 273.9 880.4 250.0 881.5 227.3 882.6 206.3 883.8 186.9 885.0 169.6 886.1 154.4 887.2 141.6 888.4 131.2 889.5 123.5 890.7 118.4 891.9 116.1 893.0 116.6 894.1 119.8 895.3 125.8 896.5 134.6 897.6 145.9 898.8 159.8 899.9 176.0 901.0 194.4 902.2 214.8 903.4 237.0 904.5 260.8 905.6 285.9 906.8 312.0 908.0 338.9 909.1 366.3 910.2 393.9 911.4 421.3 912.5 448.4 913.7 474.8 914.9 500.2 916.0 524.4 917.1 547.0 918.3 567.9 919.5 586.8 920.6 603.5 921.8 617.9 922.9 629.7 924.0 638.8 925.2 645.2 926.4 648.7 927.5 649.3 928.6 647.0 929.8 641.8 931.0 633.8 932.1 622.9 933.2 609.5 934.4 593.5 935.5 575.1 936.7 554.6 937.9 532.1 939.0 507.9 940.1 482.2 941.3 455.3 942.5 427.6 943.6 399.2 944.8 370.5 945.9 341.7 947.0 313.3 948.2 285.5 949.4 258.6 950.5 232.9 951.6 208.7 952.8 186.2 954.0 165.6 955.1 147.3 956.2 131.4 957.4 118.1 958.5 107.5 959.7 99.8 960.9 95.0 962.0 93.2 963.1 94.5 964.3 98.8 965.5 106.0 966.6 116.2 967.8 129.2 968.9 144.9 970.0 163.1 971.2 183.7 972.4 206.3 973.5 230.9 974.6 257.1 975.8 284.6 977.0 313.2 978.1 342.5 979.2 372.3 980.4 402.3 981.5 432.0 982.7 461.2 983.9 489.6 985.0 516.9 986.1 542.7 987.3 566.8 988.5 589.0 989.6 608.9 990.8 626.4 991.9 641.3 993.0 653.4 994.2 662.6 995.4 668.7 996.5 671.8 997.6 671.7 998.8 668.4 1000.0 662.0 1001.1 652.6 1002.2 640.2 1003.4 624.9 1004.5 606.9 1005.7 586.5 1006.4 573.1" stroke="#48cc48" stroke-width="2"/>
</g>
<path d="M88.0 696V685M88.0 58V69M203.0 696V685M203.0 58V69M318.0 696V685M318.0 58V69M433.0 696V685M433.0 58V69M548.0 696V685M548.0 58V69M663.0 696V685M663.0 58V69M778.0 696V685M778.0 58V69M893.0 696V685M893.0 58V69M1008.0 696V685M1008.0 58V69M88 696.0H99M1008 696.0H997M88 588.0H99M1008 588.0H997M88 483.0H99M1008 483.0H997M88 378.0H99M1008 378.0H997M88 270.8H99M1008 270.8H997M88 165.8H99M1008 165.8H997M88 58.0H99M1008 58.0H997" stroke="#1a1a1a" stroke-width="2" fill="none"/>
<rect x="88" y="58" width="920" height="638" fill="none" stroke="#1a1a1a" stroke-width="2"/>
<text x="88.5" y="724" font-size="23" letter-spacing="1.6" text-anchor="middle">0</text>
<text x="204.1" y="724" font-size="23" letter-spacing="1.6" text-anchor="middle">50</text>
<text x="320.7" y="724" font-size="23" letter-spacing="1.6" text-anchor="middle">100</text>
<text x="436.1" y="724" font-size="23" letter-spacing="1.6" text-anchor="middle">150</text>
<text x="547.3" y="724" font-size="23" letter-spacing="1.6" text-anchor="middle">200</text>
<text x="662.3" y="724" font-size="23" letter-spacing="1.6" text-anchor="middle">250</text>
<text x="776.9" y="724" font-size="23" letter-spacing="1.6" text-anchor="middle">300</text>
<text x="892.5" y="724" font-size="23" letter-spacing="1.6" text-anchor="middle">350</text>
<text x="1008.0" y="724" font-size="23" letter-spacing="1.6" text-anchor="middle">400</text>
<text x="77.6" y="701.4" font-size="23" letter-spacing="0.6" text-anchor="end">-6</text>
<text x="77.6" y="596.4" font-size="23" letter-spacing="0.6" text-anchor="end">-4</text>
<text x="77.6" y="488.7" font-size="23" letter-spacing="0.6" text-anchor="end">-2</text>
<text x="77.6" y="383.6" font-size="23" letter-spacing="0.6" text-anchor="end">0</text>
<text x="77.6" y="278.7" font-size="23" letter-spacing="0.6" text-anchor="end">2</text>
<text x="77.6" y="171.5" font-size="23" letter-spacing="0.6" text-anchor="end">4</text>
<text x="77.6" y="66.5" font-size="23" letter-spacing="0.6" text-anchor="end">6</text>
<text x="548" y="757" font-size="26" text-anchor="middle" textLength="99" lengthAdjust="spacing">Time (s)</text>
<text transform="translate(41.5,377.5) rotate(-90)" font-size="27" text-anchor="middle" textLength="462" lengthAdjust="spacing">Wave elevation at basin boundary (m)</text>
<text x="548" y="44" font-size="26.5" font-weight="bold" style="fill:#1a1a1a" text-anchor="middle" textLength="577" lengthAdjust="spacing">Resonance in trapezoidal semi-closed basin</text>
<rect x="118" y="68" width="218" height="90" fill="#fff" stroke="#1a1a1a" stroke-width="2"/>
<path d="M134 88.2H211" stroke="#8080ff" stroke-width="4.6" opacity="0.55"/>
<path d="M134 88.2H211" stroke="#2424aa" stroke-width="2"/>
<text x="216" y="91.4" font-size="22" letter-spacing="0.3">H0/H1=1/2</text>
<path d="M134 113.2H211" stroke="#ff9cff" stroke-width="4.6" opacity="0.55"/>
<path d="M134 113.2H211" stroke="#cc4ccc" stroke-width="2"/>
<text x="216" y="116.4" font-size="22" letter-spacing="0.3">H0/H1=1/3</text>
<path d="M134 140.8H211" stroke="#a0f8a0" stroke-width="4.6" opacity="0.55"/>
<path d="M134 140.8H211" stroke="#48cc48" stroke-width="2"/>
<text x="216" y="144.0" font-size="22" letter-spacing="0.3">H0/H1=1/4</text>
</svg></body></html>
